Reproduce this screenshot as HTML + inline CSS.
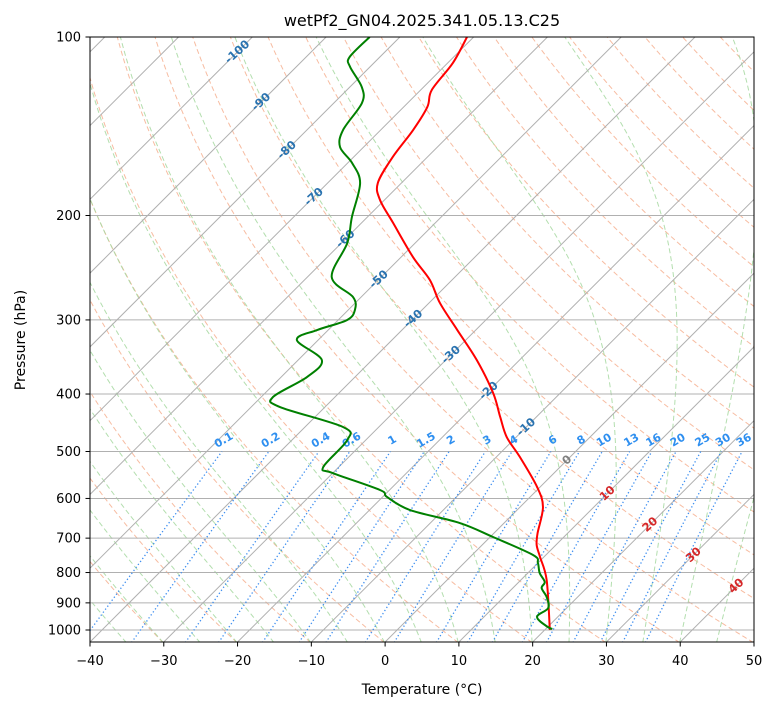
<!DOCTYPE html>
<html><head><meta charset="utf-8">
<style>
html,body{margin:0;padding:0;background:#fff;}
svg{display:block;font-family:"DejaVu Sans","Liberation Sans",sans-serif;}
</style></head>
<body>
<svg id="chart" width="775" height="708" viewBox="0 0 775 708" xmlns="http://www.w3.org/2000/svg">
<defs><clipPath id="plotclip"><rect x="90" y="37" width="664" height="605"/></clipPath></defs>
<rect x="0" y="0" width="775" height="708" fill="#fff"/>
<text x="422" y="26" font-size="16" text-anchor="middle">wetPf2_GN04.2025.341.05.13.C25</text>
<g id="bg" clip-path="url(#plotclip)"></g>
<g id="labels"></g>
<g id="series" clip-path="url(#plotclip)"></g>
<rect x="90" y="37" width="664" height="605" fill="none" stroke="#000" stroke-width="1"/>
<g id="axes"></g>
<text x="422" y="694" font-size="14" text-anchor="middle">Temperature (°C)</text>
<text x="25" y="340" font-size="14" text-anchor="middle" transform="rotate(-90 25 340)">Pressure (hPa)</text>
</svg>
<script>
const tempPressure = [100,110.6,122.8,131.2,143.5,159.4,176.3,188.3,205.9,235,256.9,281,312,350.5,398.5,437.3,472.7,510.9,574,620.3,686.3,719,753.5,823.7,1000];
const temperature = [-70.9,-69.3,-68.5,-66.8,-65.6,-64.7,-63.2,-60.6,-55.7,-48.4,-43,-38.5,-32.5,-25.8,-19.1,-14.9,-11.3,-6.8,-0.4,3.1,5.9,7.4,9.5,13.5,20.7];
const dewPressure = [100,108.1,112.3,121.4,129.2,143.5,153.3,163.1,176.3,201.2,222.6,254,274.5,288.6,300.2,312,324.3,350.5,374.5,404.8,420.7,454.8,478.1,531.1,543.6,580.6,596.6,627.7,660.1,696.9,747.6,770.9,801.5,829.9,849.6,879.8,918.2,950.7,988.3,996];
const dewpoint = [-84.1,-84.1,-82.7,-78.4,-76.2,-75.1,-73.2,-69.4,-65.6,-62.1,-59.2,-56.7,-51.1,-49.1,-48.8,-51.5,-52.9,-46.8,-46.5,-48.4,-46.1,-34.8,-32.5,-32.1,-30,-21.3,-19.4,-14.5,-6,0.4,8.3,10,11.6,13.5,13.9,15.8,17.5,17.2,20,20.9];
const xTicks = [-40,-30,-20,-10,0,10,20,30,40,50];
const pTicks = [100,200,300,400,500,600,700,800,900,1000];
const isoLabelTemps = [-100,-90,-80,-70,-60,-50,-40,-30,-20,-10,0,10,20,30,40];
const isoLabelPressures = [106,128.7,155.1,186,219,256.3,298.6,343.5,395,454.9,517.1,588.4,664.1,746.9,843];
const mixingRatios = [0.1,0.2,0.4,0.6,1,1.5,2,3,4,6,8,10,13,16,20,25,30,36];

const NS = "http://www.w3.org/2000/svg";
const X0 = 90, PX = 664/90, YTOP = 37, DEC = 593, YBOT = 642;
function yOf(p){ return YTOP + DEC*Math.log10(p/100); }
function xOf(T,p){ return X0 + (T+40)*PX + (YBOT - yOf(p)); }
function mk(tag, attrs, parent){
  const e = document.createElementNS(NS, tag);
  for (const k in attrs) e.setAttribute(k, attrs[k]);
  parent.appendChild(e); return e;
}
function pts(arrP, arrT){ return arrP.map((p,i)=>xOf(arrT[i],p).toFixed(2)+","+yOf(p).toFixed(2)).join(" "); }
function smoothPath(arrP, arrT){
  const P = arrP.map((p,i)=>[xOf(arrT[i],p), yOf(p)]);
  let d = "M"+P[0][0].toFixed(2)+","+P[0][1].toFixed(2);
  for (let i=0;i<P.length-1;i++){
    const p0=P[Math.max(0,i-1)], p1=P[i], p2=P[i+1], p3=P[Math.min(P.length-1,i+2)];
    const c1=[p1[0]+(p2[0]-p0[0])/6, p1[1]+(p2[1]-p0[1])/6];
    const c2=[p2[0]-(p3[0]-p1[0])/6, p2[1]-(p3[1]-p1[1])/6];
    d += " C"+c1[0].toFixed(2)+","+c1[1].toFixed(2)+" "+c2[0].toFixed(2)+","+c2[1].toFixed(2)+" "+p2[0].toFixed(2)+","+p2[1].toFixed(2);
  }
  return d;
}
const bg = document.getElementById("bg"), labels = document.getElementById("labels"),
      series = document.getElementById("series"), axes = document.getElementById("axes");

const pLevels = []; for (let p=1050; p>=95; p-=5) pLevels.push(p);

for (let t0=-100; t0<=260; t0+=10){
  const th = t0+273.15;
  const T = pLevels.map(p=>th*Math.pow(p/1050,0.2857)-273.15);
  const l = mk("polyline",{points:pts(pLevels,T),fill:"none",stroke:"#f4a582","stroke-width":1,"stroke-dasharray":"5,3",opacity:0.75},bg);
  
  
}
function es(Tc){ return 6.112*Math.exp(17.67*Tc/(Tc+243.5)); }
for (let t0=-50; t0<=60; t0+=5){
  let T = t0+273.15; const Ps=[1050], Ts=[t0];
  for (let p=1050; p>95; p-=2){
    const e = es(T-273.15), rs = 0.622*e/(p-e);
    const Rd=287.04, Lv=2.501e6, Cp=1005.7, eps=0.622;
    const dTdp = (1/p)*(Rd*T + Lv*rs)/(Cp + Lv*Lv*rs*eps/(Rd*T*T));
    T -= dTdp*2; Ps.push(p-2); Ts.push(T-273.15);
  }
  const l = mk("polyline",{points:pts(Ps,Ts),fill:"none",stroke:"#a6d8a0","stroke-width":1,"stroke-dasharray":"5,3",opacity:0.85},bg);
  
  
}
for (let t=-160; t<=50; t+=10){
  const l = mk("line",{x1:xOf(t,1050),y1:yOf(1050),x2:xOf(t,100),y2:yOf(100),stroke:"#b0b0b0","stroke-width":1},bg);
  
  
}
pTicks.forEach(p=>{
  const l = mk("line",{x1:90,x2:754,y1:yOf(p),y2:yOf(p),stroke:"#b0b0b0","stroke-width":1},bg);
  
  
});
function tdFromW(w,p){ const e = (w/1000)*p/(0.622+w/1000); const a=Math.log(e/6.112); return 243.5*a/(17.67-a); }
const mrP = []; for (let p=1050; p>=500; p-=10) mrP.push(p);
mixingRatios.forEach(w=>{
  const T = mrP.map(p=>tdFromW(w,p));
  const l = mk("polyline",{points:pts(mrP,T),fill:"none",stroke:"#3d8ef0","stroke-width":1.3,"stroke-dasharray":"1.3,2.4"},bg);
  
  
  const lx = xOf(tdFromW(w,500),500)+2, ly = yOf(500)-11;
  const t = mk("text",{x:lx,y:ly,"font-size":11,"font-weight":"bold",fill:"#2e8ff0","text-anchor":"middle","dominant-baseline":"middle",transform:`rotate(-30 ${lx} ${ly})`},labels);
  t.textContent = String(w);
  
  
});
isoLabelTemps.forEach((T,i)=>{
  const p = isoLabelPressures[i], lx = xOf(T,p), ly = yOf(p);
  const col = T<0 ? "#2a73b0" : (T===0 ? "#808080" : "#d62728");
  const t = mk("text",{x:lx,y:ly,"font-size":11.5,"font-weight":"bold",fill:col,"text-anchor":"middle","dominant-baseline":"middle",transform:`rotate(-42 ${lx} ${ly})`},labels);
  t.textContent = String(T);
  
  
});
const tl = mk("path",{d:smoothPath(tempPressure,temperature),fill:"none",stroke:"#ff0000","stroke-width":2,"stroke-linejoin":"round"},series);


const dl = mk("path",{d:smoothPath(dewPressure,dewpoint),fill:"none",stroke:"#008000","stroke-width":2,"stroke-linejoin":"round"},series);


xTicks.forEach(T=>{
  const x = X0+(T+40)*PX;
  const tk = mk("line",{x1:x,x2:x,y1:642,y2:646.5,stroke:"#000","stroke-width":1},axes);
  
  
  const t = mk("text",{x:x,y:665,"font-size":13,"text-anchor":"middle"},axes);
  t.textContent = T<0 ? "\u2212"+Math.abs(T) : String(T);
  
  
});
pTicks.forEach(p=>{
  const y = yOf(p);
  const tk = mk("line",{x1:85.5,x2:90,y1:y,y2:y,stroke:"#000","stroke-width":1},axes);
  
  
  const t = mk("text",{x:81,y:y+4.5,"font-size":13,"text-anchor":"end"},axes);
  t.textContent = String(p);
  
  
});
</script>
</body></html>
